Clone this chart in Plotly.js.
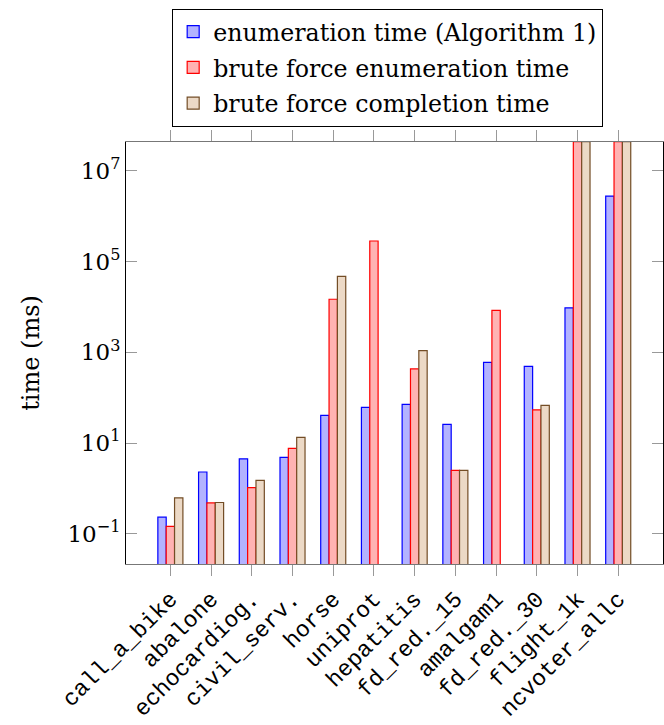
<!DOCTYPE html>
<html>
<head>
<meta charset="utf-8">
<script src="https://cdn.plot.ly/plotly-3.0.1.min.js"></script>
<style>html,body{margin:0;padding:0;background:#fff;}#chart{width:664px;height:725px;}</style>
</head>
<body>
<div id="chart"></div>
<script>
const categories = ["call_a_bike","abalone","echocardiog.","civil_serv.","horse","uniprot","hepatitis","fd_red._15","amalgam1","fd_red._30","flight_1k","ncvoter_allc"];
const enumTime = [0.233, 2.3, 4.5, 4.85, 40.6, 61, 71, 25.8, 603, 492, 9600, 2.78e6];
const bruteEnumTime = [0.145, 0.48, 1.04, 7.65, 14800, 285000, 430, 2.5, 8380, 54, 4.4e7, 4.4e7];
const bruteCompTime = [0.62, 0.49, 1.5, 13.3, 47500, null, 1090, 2.5, null, 68, 4.4e7, 4.4e7];
const seriesNames = ["enumeration time (Algorithm 1)", "brute force enumeration time", "brute force completion time"];
const yTickVals = [0.1, 10, 1000, 1e5, 1e7];
const yTickText = ["10<sup>−1</sup>", "10<sup>1</sup>", "10<sup>3</sup>", "10<sup>5</sup>", "10<sup>7</sup>"];

const xIdx = categories.map((c, i) => i);
function mk(vals, name, fill, line, g) {
  return {type: 'bar', x: xIdx, y: vals, name: name, legendgroup: g,
    marker: {color: fill, line: {color: line, width: 1.2}}};
}
const data = [
  mk(enumTime, seriesNames[0], '#b3b3ff', '#0000ff', 'a'),
  mk(bruteEnumTime, seriesNames[1], '#ffb3b3', '#ff0000', 'b'),
  mk(bruteCompTime, seriesNames[2], '#ecd9c6', '#734d26', 'c')
];
const serif = 'DejaVu Serif, Liberation Serif, serif';
const layout = {
  width: 664, height: 725,
  margin: {l: 126, r: 1, t: 142, b: 161},
  paper_bgcolor: '#fff', plot_bgcolor: '#fff',
  barmode: 'group', bargap: 0.385, bargroupgap: 0,
  showlegend: true,
  legend: {x: 0.086, y: 1.316, xanchor: 'left', yanchor: 'top',
    bordercolor: '#000', borderwidth: 1, bgcolor: '#fff',
    font: {family: serif, size: 23.7, color: '#000'},
    traceorder: 'grouped', tracegroupgap: 2, itemwidth: 30},
  xaxis: {
    tickmode: 'array', tickvals: xIdx, ticktext: categories,
    range: [-1.09, 12.1], tickangle: -45,
    tickfont: {family: 'Liberation Mono, DejaVu Sans Mono, monospace', size: 23, color: '#000'},
    ticks: 'outside', ticklen: 11, tickcolor: '#999', tickwidth: 1,
    showline: true, linecolor: '#777', linewidth: 1.2, mirror: 'ticks',
    showgrid: false, zeroline: false
  },
  yaxis: {
    type: 'log', range: [-1.666, 7.637],
    tickmode: 'array', tickvals: yTickVals, ticktext: yTickText,
    tickfont: {family: serif, size: 23, color: '#000'},
    ticks: 'inside', ticklen: 11, tickcolor: '#999', tickwidth: 1,
    showline: true, linecolor: '#000', linewidth: 1, mirror: 'ticks',
    showgrid: false, zeroline: false,
    title: {text: 'time (ms)', font: {family: serif, size: 24, color: '#000'}, standoff: 20}
  }
};
Plotly.newPlot('chart', data, layout, {displayModeBar: false, staticPlot: true});
</script>
</body>
</html>
